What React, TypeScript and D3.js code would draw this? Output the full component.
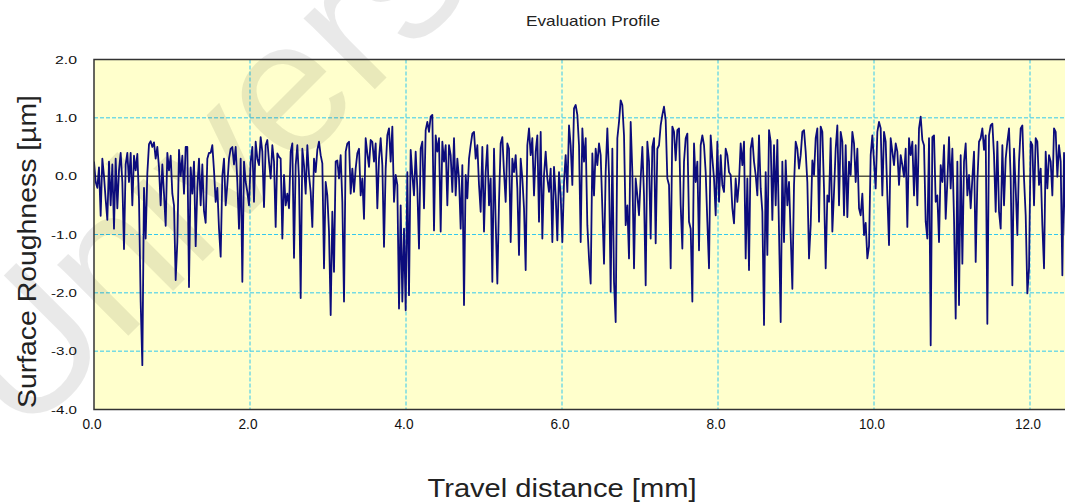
import React from 'react';
import * as d3 from 'd3';

// ---- axis definitions ----
const xTicks = [0, 2, 4, 6, 8, 10, 12];
const yTicks = [2, 1, 0, -1, -2, -3, -4];
const xGrid = [2, 4, 6, 8, 10, 12];
const yGrid = [1, -1, -2, -3];
const X_MAX = 12.5; // mm
const Y_MIN = -4;
const Y_MAX = 2;
const SAMPLE_STEP = 0.021368; // mm between profile samples

const TITLE = 'Evaluation Profile';
const X_LABEL = 'Travel distance [mm]';
const Y_LABEL = 'Surface Roughness [µm]';
const WATERMARK = 'University';

// ---- profile heights [µm], in order of travel ----
// 0.00 – 1.48 mm
const profileA = [
  0.25, -0.1, -0.2, 0.15, -0.68, 0.3, 0.0, -0.4, -0.75, 0.25,
  -0.5, 0.2, -0.9, 0.3, -0.55, 0.1, 0.4, -0.1, -1.25, 0.2,
  0.4, -0.1, 0.4, -0.5, 0.35, 0.1, 0.38, -0.4, -2.15, -3.24,
  -0.2, -1.07, 0.05, 0.55, 0.6, 0.5, 0.58, 0.3, 0.5, 0.15,
  -0.5, 0.2, -0.3, -0.85, 0.4, 0.1, 0.35, -0.3, -0.5, -1.78,
  -1.13, 0.45, 0.0, 0.35, -0.3, 0.5, 0.5, -1.9, 0.15, -0.3,
  0.25, -1.2, -0.2, 0.3, -0.5, 0.2, -0.6, -0.8, 0.3, 0.4,
];
// 1.50 – 3.01 mm
const profileB = [
  0.4, 0.53, 0.1, -0.44, -0.2, -0.9, -1.38, 0.0, 0.3, -0.5, -0.15, 0.3,
  0.47, 0.5, 0.2, 0.5, -0.1, -0.9, 0.3, -1.81, 0.25, -0.1, -0.27, -0.5,
  0.25, 0.5, -0.44, 0.59, 0.3, 0.19, 0.67, 0.42, -0.53, 0.53, 0.62, 0.25,
  -0.04, 0.53, 0.25, -0.87, 0.39, 0.33, 0.3, -1.07, 0.02, -0.5, -0.3, -0.55,
  0.42, 0.56, -1.4, 0.19, 0.53, -0.04, -2.09, 0.47, 0.19, -0.3, 0.53, 0.02,
  -0.27, -0.87, 0.3, 0.07, 0.45, 0.59, 0.36, 0.22, -1.58, -0.1, -0.33, -0.95,
];
// 3.03 – 4.55 mm
const profileC = [
  -2.38, -0.61, -1.64, 0.25, 0.27, -0.04, 0.36, -0.44, -2.15, 0.42, 0.56, 0.59,
  -0.3, 0.13, -0.27, 0.13, 0.39, 0.47, -0.33, -0.04, -0.73, 0.65, 0.39, 0.16,
  0.62, 0.59, 0.25, 0.56, -0.55, 0.3, 0.65, 0.19, -1.21, 0.13, 0.7, 0.82,
  0.25, 0.85, -0.44, 0.02, -0.15, -2.27, -0.5, -2.15, -0.9, -2.3, 0.07, -2.04,
  0.45, 0.02, -0.33, 0.42, -0.21, -1.24, 0.47, 0.59, -0.55, 0.79, 0.93, 0.76,
  1.02, 1.05, -0.93, 0.7, 0.42, 0.65, -0.95, 0.59, 0.25, 0.53, -0.5, 0.53,
];
// 4.57 – 6.09 mm
const profileD = [
  0.36, -0.27, 0.65, -0.33, 0.3, -0.04, -0.9, 0.19, -2.21, 0.02, -0.38, 0.3,
  0.53, 0.73, 0.76, 0.3, 0.53, -0.15, -0.61, 0.5, -0.95, 0.07, 0.53, -0.5,
  -0.04, -1.81, 0.47, -0.78, -1.84, -0.44, 0.56, 0.67, 0.07, -0.44, 0.56, 0.47,
  -1.13, 0.3, 0.07, 0.36, -0.21, -1.35, 0.3, -0.04, -0.55, -1.61, 0.53, 0.82,
  0.36, 0.65, -0.33, 0.42, 0.7, -0.78, 0.76, -1.07, 0.02, 0.42, -0.04, -0.27,
  0.13, -1.13, 0.16, -0.33, -1.1, 0.07, -0.33, -1.13, -0.1, 0.36, -0.27, 0.87,
];
// 6.11 – 7.63 mm
const profileE = [
  0.53, -0.15, 1.16, 1.22, 1.05, 0.53, -1.13, 0.82, 0.25, 0.65, -0.84, -1.41,
  -1.84, 0.39, -0.33, 0.47, 0.19, 0.56, 0.36, -0.55, -1.5, 0.07, 0.82, 0.02,
  -1.98, 0.47, -1.81, -2.5, 0.65, 0.93, 1.3, 1.22, 0.7, -0.84, -0.5, -1.41,
  0.93, 0.07, -1.58, -0.04, -0.33, -0.67, -0.04, 0.5, -0.33, -1.87, 0.59, 0.25,
  -1.07, 0.5, 0.65, -1.15, 0.47, 0.53, 0.87, 1.05, 1.19, 0.96, -0.04, -0.15,
  -1.58, 0.85, 0.76, 0.27, 0.79, 0.82, -0.5, -1.24, 0.25, 0.65, 0.73, -0.78,
];
// 7.65 – 9.17 mm
const profileF = [
  -0.9, -2.15, 0.56, -0.1, 0.25, -1.27, 0.53, 0.7, 0.53, 0.07, -0.78, -1.58,
  0.7, 0.3, -0.04, -0.67, 0.59, -0.44, 0.36, -0.15, -0.27, 0.47, 0.36, 0.07,
  0.02, -0.55, -0.81, -0.04, -0.44, -0.1, 0.56, 0.19, 0.59, -1.41, -0.04, -1.61,
  0.47, 0.65, 0.25, 0.02, -0.33, 0.7, -0.21, -0.61, -2.55, 0.07, -1.35, 0.79,
  0.59, -0.75, 0.53, -0.5, 0.62, -0.95, -2.5, 0.25, -1.13, 0.27, -0.5, -0.1,
  -1.01, -1.93, -0.15, 0.59, 0.47, 0.13, 0.36, 0.76, 0.79, 0.42, -0.1, -1.41,
];
// 9.19 – 10.71 mm
const profileG = [
  -0.84, 0.27, 0.02, 0.65, 0.82, -0.78, 0.85, 0.76, -0.21, -1.58, -0.33, -0.44,
  0.65, -0.95, -0.27, 0.47, 0.87, -0.5, 0.76, 0.59, -0.67, 0.53, -0.7, 0.25,
  0.02, 0.76, 0.56, -0.1, 0.47, -0.55, -0.67, -0.3, -1.01, -0.8, -1.41, -1.2,
  0.36, 0.7, 0.25, -0.21, 0.76, 0.93, 0.82, -0.33, 0.76, 0.59, -0.33, -1.18,
  0.65, 0.42, 0.19, 0.56, 0.42, -0.15, 0.36, 0.19, -0.01, 0.47, -0.87, 0.65,
  0.36, 0.59, -0.33, 0.53, -0.5, 0.82, 1.02, 0.62, 0.53, -0.78, -1.07, 0.65,
];
// 10.73 – 12.54 mm
const profileH = [
  -2.9, 0.67, 0.7, -0.44, -0.33, -1.13, 0.19, -0.1, 0.53, -0.73, -0.1, 0.67,
  -0.21, 0.47, -0.73, -2.44, 0.25, -2.21, 0.36, -1.5, 0.25, 0.56, -0.33, 0.02,
  -0.55, -0.04, 0.42, -1.47, -0.1, 0.59, 0.65, 0.82, 0.45, 0.7, -2.53, 0.7,
  0.87, 0.9, 0.36, -0.61, 0.59, -0.61, -0.9, 0.53, -0.5, 0.3, 0.59, 0.82,
  -0.04, -1.87, 0.47, -0.21, -1.01, 0.25, 0.82, 0.87, -0.04, -0.67, -2.01, -1.58,
  0.59, 0.53, -0.5, 0.65, 0.59, -0.15, 0.13, -0.84, -1.58, 0.42, -0.21, 0.36,
  0.25, -0.33, 0.82, 0.76, -0.01, 0.53, 0.25, -1.7, 0.4, -1.01, 0.3, 0.5, 0.2, 0.4,
];

const heights = [
  ...profileA, ...profileB, ...profileC, ...profileD,
  ...profileE, ...profileF, ...profileG, ...profileH,
];

const FONT = 'Liberation Sans, Arial, Helvetica, sans-serif';

export default function App() {
  const W = 1065;
  const H = 502;
  const left = 94;
  const top = 59.5;
  const bottom = 409.5;
  const pxPerMm = 78;

  const x = d3.scaleLinear().domain([0, X_MAX]).range([left, left + X_MAX * pxPerMm]);
  const y = d3.scaleLinear().domain([Y_MIN, Y_MAX]).range([bottom, top]);

  const data = heights.map((h, i) => [i * SAMPLE_STEP, h] as [number, number]);
  const line = d3
    .line<[number, number]>()
    .x((d) => x(d[0]))
    .y((d) => y(d[1]));

  const plotW = x(X_MAX) - left;
  const plotH = bottom - top;
  const gridColor = '#33c8ee';

  return (
    <svg
      width={W}
      height={H}
      style={{ position: 'absolute', left: 0, top: 0, background: '#fff' }}
      fontFamily={FONT}
    >
      <defs>
        <clipPath id="plotClip">
          <rect x={left} y={top} width={plotW} height={plotH} />
        </clipPath>
      </defs>

      {/* plot background */}
      <rect x={left} y={top} width={plotW} height={plotH} fill="#ffffcc" />

      {/* grid */}
      {xGrid.map((t) => (
        <line
          key={'xg' + t}
          x1={x(t)}
          x2={x(t)}
          y1={top}
          y2={bottom}
          stroke={gridColor}
          strokeWidth={1}
          strokeDasharray="4,2"
        />
      ))}
      {yGrid.map((t) => (
        <line
          key={'yg' + t}
          x1={left}
          x2={x(X_MAX)}
          y1={y(t)}
          y2={y(t)}
          stroke={gridColor}
          strokeWidth={1}
          strokeDasharray="4,2"
        />
      ))}

      {/* watermark */}
      <text
        x={22}
        y={442}
        transform="rotate(-45, 22, 442)"
        fontSize={190}
        fill="#000"
        fillOpacity={0.085}
        fontFamily={FONT}
      >
        {WATERMARK}
      </text>

      {/* zero line */}
      <line x1={left} x2={x(X_MAX)} y1={y(0)} y2={y(0)} stroke="#000" strokeWidth={1} />

      {/* profile */}
      <path
        d={line(data) || ''}
        fill="none"
        stroke="#0c0c7c"
        strokeWidth={1.8}
        strokeLinejoin="round"
        clipPath="url(#plotClip)"
      />

      {/* border */}
      <rect x={left} y={top} width={plotW} height={plotH} fill="none" stroke="#333" strokeWidth={1.5} />

      {/* y tick labels */}
      {yTicks.map((t) => {
        const s = t.toFixed(1);
        return (
          <text
            key={'yt' + t}
            x={77}
            y={y(t)}
            dy="0.35em"
            textAnchor="end"
            fontSize={11.5}
            fill="#111"
            textLength={s.length === 3 ? 22 : 26}
            lengthAdjust="spacingAndGlyphs"
          >
            {s}
          </text>
        );
      })}
      {/* x tick labels */}
      {xTicks.map((t) => {
        const s = t.toFixed(1);
        return (
          <text
            key={'xt' + t}
            x={x(t) - 2}
            y={429}
            textAnchor="middle"
            fontSize={14}
            fill="#111"
            textLength={s.length === 3 ? 19 : 26}
            lengthAdjust="spacingAndGlyphs"
          >
            {s}
          </text>
        );
      })}

      {/* title */}
      <text
        x={593}
        y={26}
        textAnchor="middle"
        fontSize={15}
        fill="#222"
        textLength={134}
        lengthAdjust="spacingAndGlyphs"
      >
        {TITLE}
      </text>

      {/* axis titles */}
      <text
        x={562}
        y={497}
        textAnchor="middle"
        fontSize={26}
        fill="#222"
        textLength={269}
        lengthAdjust="spacingAndGlyphs"
      >
        {X_LABEL}
      </text>
      <text
        x={0}
        y={0}
        transform={`translate(36, ${(95 + 408) / 2}) rotate(-90)`}
        textAnchor="middle"
        fontSize={26}
        fill="#222"
        textLength={313}
        lengthAdjust="spacingAndGlyphs"
      >
        {Y_LABEL}
      </text>
    </svg>
  );
}
